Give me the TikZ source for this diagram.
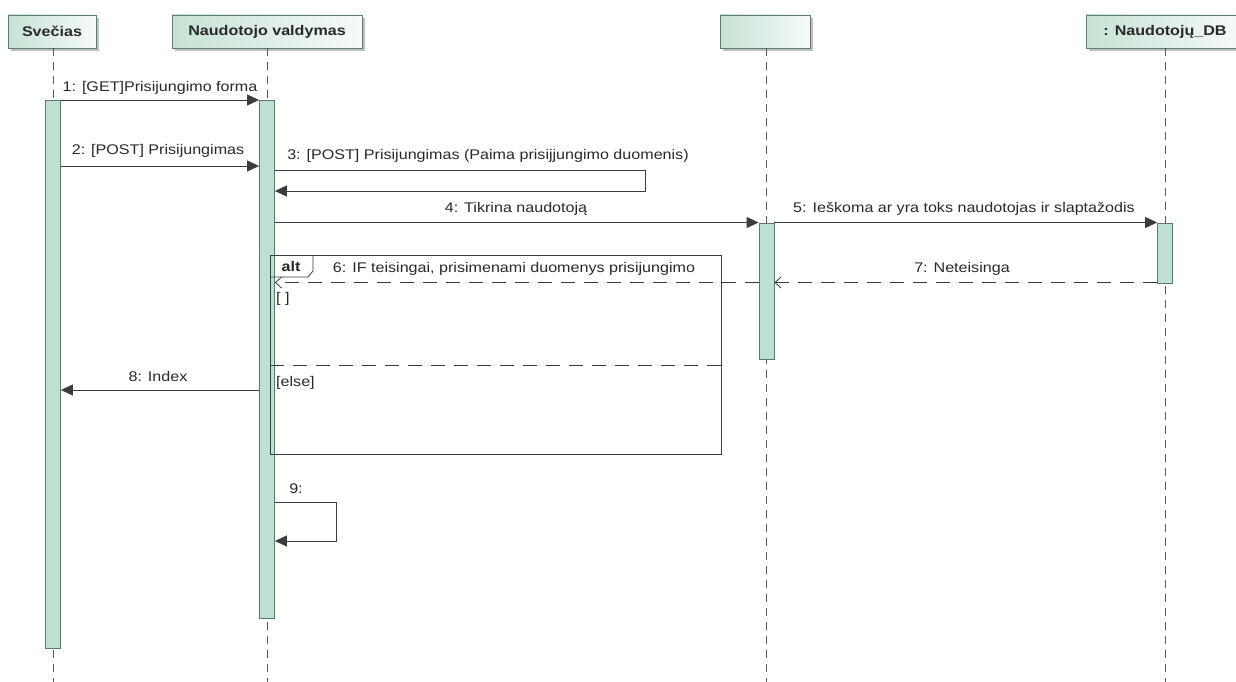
\documentclass[tikz,border=0pt]{standalone}
\usepackage{fontspec}
\setmainfont{Liberation Sans}
\newfontfamily\lf[FakeStretch=1.15]{Liberation Sans}
\usetikzlibrary{arrows.meta,shadows}
\definecolor{hdrL}{HTML}{C6E2D4}
\definecolor{hdrB}{HTML}{5E7D70}
\definecolor{actF}{HTML}{BDE0D0}
\definecolor{actB}{HTML}{5A7A6C}
\definecolor{ln}{HTML}{3C3C3C}
\definecolor{txt}{HTML}{2A2A2A}
\begin{document}
\begin{tikzpicture}[x=1pt,y=-1pt,
  every node/.style={text=txt},
  lbl/.style={font=\lf\fontsize{14}{16}\selectfont, inner sep=0pt},
  hdr/.style={draw=hdrB, line width=0.8pt, left color=hdrL, right color=hdrL!15, minimum height=33pt, inner sep=0pt,
    font=\lf\fontsize{14}{16}\selectfont\bfseries,
    drop shadow={shadow xshift=3pt, shadow yshift=-3pt, fill=black!35, opacity=0.7}},
  life/.style={draw=black!65, line width=0.8pt, dash pattern=on 8pt off 6pt},
  act/.style={draw=actB, fill=actF, line width=0.8pt, minimum width=15pt, inner sep=0pt, anchor=north},
  msg/.style={draw=ln, line width=0.8pt, -{Triangle[length=12pt,width=11pt]}},
  ret/.style={draw=ln, line width=0.8pt, dash pattern=on 14pt off 9pt, -{Straight Barb[length=6pt,width=11pt,line width=0.8pt]}},
  frm/.style={draw=ln, line width=0.8pt}]
\fill[white] (0,0) rectangle (1236,682);
\useasboundingbox (0,0) rectangle (1236,682);

% headers
\node[hdr, minimum width=88pt]  (sv) at (52,31.5)   {Sve\v{c}ias};
\node[hdr, minimum width=190pt] (nv) at (267,31.5)  {Naudotojo valdymas};
\node[hdr, minimum width=90pt]  (tr) at (765,31.5)  {};
\node[hdr, minimum width=158pt] (db) at (1165,31.5) {: Naudotojų\_DB};

% lifelines
\coordinate (svb) at (53,682);
\coordinate (nvb) at (267,682);
\coordinate (trb) at (766.5,682);
\coordinate (dbb) at (1165,682);
\draw[life] (sv.south -| svb) -- (svb);
\draw[life] (nv.south -| nvb) -- (nvb);
\draw[life] (tr.south -| trb) -- (trb);
\draw[life] (db.south -| dbb) -- (dbb);

% activations
\node[act, minimum height=548pt] (asv) at (53,100)  {};
\node[act, minimum height=518pt] (anv) at (267,100) {};
\node[act, minimum height=136pt] (atr) at (766.5,222.5) {};
\node[act, minimum height=60pt]  (adb) at (1165,222.5) {};

% alt frame
\node[frm, anchor=north west, minimum width=451pt, minimum height=199pt, inner sep=0pt] (alt) at (270,255) {};
\draw[frm] (alt.north west) ++(0,22) coordinate (t1) -- ++(38,0) -- ++(5,-6) -- ++(0,-16) coordinate (t2);
\node[lbl, font=\lf\fontsize{14}{16}\selectfont\bfseries] (altl) at (291,266) {alt};
\draw[ret, -] (alt.west |- 0,365) -- (alt.east |- 0,365);
\node[lbl, anchor=west] (g1) at (276,299) {[ ]};
\node[lbl, anchor=west] (g2) at (276,383) {[else]};

% messages
\draw[msg] (asv.east |- 0,100) -- (anv.west |- 0,100);
\node[lbl] (m1) at (160,88) {1: [GET]Prisijungimo forma};

\draw[msg] (asv.east |- 0,166) -- (anv.west |- 0,166);
\node[lbl] (m2) at (158,151) {2: [POST] Prisijungimas};

\draw[msg] (anv.east |- 0,170) -- (645,170) -- (645,191) -- (anv.east |- 0,191);
\node[lbl] (m3) at (488,156) {3: [POST] Prisijungimas (Paima prisijjungimo duomenis)};

\draw[msg] (anv.east |- 0,222.5) -- (atr.west |- 0,222.5);
\node[lbl] (m4) at (516,209) {4: Tikrina naudotoją};

\draw[msg] (atr.east |- 0,222.5) -- (adb.west |- 0,222.5);
\node[lbl] (m5) at (964,209) {5: Ieškoma ar yra toks naudotojas ir slaptažodis};

\draw[ret] (adb.west |- 0,282.5) -- (atr.east |- 0,282.5);
\node[lbl] (m7) at (962,269) {7: Neteisinga};

\draw[ret] (atr.west |- 0,282.5) -- (anv.east |- 0,282.5);
\node[lbl] (m6) at (514,269) {6: IF teisingai, prisimenami duomenys prisijungimo};

\draw[msg] (anv.west |- 0,390) -- (asv.east |- 0,390);
\node[lbl] (m8) at (158,376) {8: Index};

\draw[msg] (anv.east |- 0,502) -- (336,502) -- (336,541) -- (anv.east |- 0,541);
\node[lbl] (m9) at (296,489) {9:};
\end{tikzpicture}
\end{document}
